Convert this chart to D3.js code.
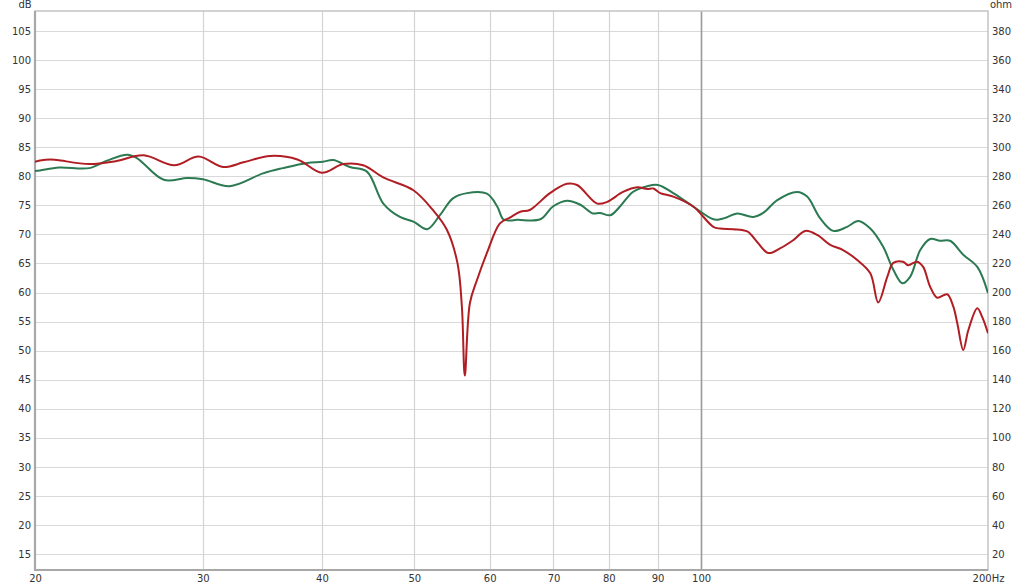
<!DOCTYPE html>
<html>
<head>
<meta charset="utf-8">
<script src="https://cdn.jsdelivr.net/npm/d3@7/dist/d3.min.js"></script>
<style>
  html, body { margin: 0; padding: 0; background: #fff; }
  svg text { font-family: "DejaVu Sans", "Liberation Sans", sans-serif; fill: #333; }
</style>
</head>
<body>
<svg id="chart" width="1024" height="587"></svg>
<script>
// ---- data ----
const freqTicks = [20, 30, 40, 50, 60, 70, 80, 90, 100, 200];
const freqTickLabels = ["20", "30", "40", "50", "60", "70", "80", "90", "100", "200Hz"];
const dbTicks = [15, 20, 25, 30, 35, 40, 45, 50, 55, 60, 65, 70, 75, 80, 85, 90, 95, 100, 105];
const ohmTicks = [20, 40, 60, 80, 100, 120, 140, 160, 180, 200, 220, 240, 260, 280, 300, 320, 340, 360, 380];

const redFreq = [20, 20.24, 20.74, 21.1, 22.8, 24.3, 26.0, 28.0, 29.7, 31.5, 33.1, 35.3, 37.7, 40.0, 42.1, 44.2, 46.4,
  49.9, 52.3, 54.1, 55.5, 56.1, 56.5, 57.2, 58.2, 59.6, 61.5, 63.0, 64.6, 66.1, 69.4, 72.3, 74.1, 77.8, 79.7,
  82.8, 85.7, 87.8, 89.1, 90.6, 93.5, 98.1, 103.0, 104.7, 108.1, 111.8, 114.5, 117.6, 121.0, 124.9, 128.6,
  132.4, 136.6, 140.9, 145.8, 150.5, 153.4, 156.8, 159.1, 162.9, 164.9, 168.5, 171.0, 173.9, 176.9, 181.2,
  183.9, 185.7, 188.4, 190.7, 194.9, 197.2, 200];
const redDb = [82.5, 82.7, 82.9, 82.8, 82.1, 82.6, 83.6, 81.9, 83.4, 81.6, 82.4, 83.5, 82.9, 80.6, 82.1, 81.9, 79.8,
  77.6, 74.2, 70.8, 65.1, 57.6, 45.7, 58.2, 62.2, 66.8, 71.9, 72.9, 73.9, 74.2, 77.1, 78.7, 78.5, 75.3, 75.6,
  77.3, 78.1, 77.8, 77.9, 77.1, 76.5, 74.8, 71.3, 71.0, 70.9, 70.5, 68.7, 66.8, 67.6, 69.0, 70.6,
  69.9, 68.2, 67.3, 65.6, 63.3, 58.3, 62.7, 65.1, 65.3, 64.7, 65.3, 64.4, 61.0, 59.1, 59.7,
  57.6, 54.7, 50.1, 53.5, 57.3, 55.8, 53.0];

const greenFreq = [20, 20.24, 21.2, 22.8, 23.8, 25.0, 25.6, 27.3, 28.9, 30.0, 32.0, 34.7, 36.4, 38.6, 40.1, 41.1,
  42.8, 44.6, 46.4, 48.3, 49.9, 51.6, 53.2, 54.9, 56.8, 59.6, 61.1, 62.0, 63.0, 64.1, 67.8, 69.9, 72.3,
  74.7, 77.0, 78.3, 80.3, 82.2, 84.8, 87.8, 90.1, 93.5, 98.1, 103.0, 104.7, 106.3, 109.1, 113.4, 116.2,
  120.2, 126.1, 129.2, 133.3, 137.6, 142.3, 146.2, 150.5, 155.2, 159.1, 162.6, 165.7, 169.8, 173.9,
  178.1, 182.5, 188.4, 194.9, 200];
const greenDb = [80.9, 81.0, 81.5, 81.4, 82.7, 83.7, 83.1, 79.4, 79.7, 79.5, 78.3, 80.5, 81.4, 82.3, 82.5, 82.8,
  81.6, 80.8, 75.3, 73.0, 72.2, 70.9, 73.3, 76.2, 77.1, 77.0, 74.8, 72.6, 72.4, 72.5, 72.6, 74.8, 75.8,
  75.1, 73.6, 73.7, 73.3, 74.8, 77.3, 78.3, 78.5, 77.1, 74.8, 72.6, 72.6, 72.9, 73.6, 73.0, 73.7,
  75.9, 77.3, 76.5, 72.8, 70.6, 71.3, 72.3, 71.0, 67.9, 63.9, 61.6, 62.7, 67.3, 69.2,
  68.9, 68.9, 66.5, 64.4, 59.9];

// ---- layout ----
const plotL = 35, plotR = 988, plotT = 11, plotB = 570;
const svg = d3.select("#chart");

const x = d3.scaleLog().domain([20, 200]).range([plotL, plotR]);
const y = d3.scaleLinear().domain([12.25, 108.44]).range([plotB, plotT]);
const yR = d3.scaleLinear().domain([(12.25 - 15) * 4 + 20, (108.44 - 15) * 4 + 20]).range([plotB, plotT]);

// horizontal grid
svg.append("g").selectAll("line").data(dbTicks).join("line")
  .attr("x1", plotL).attr("x2", plotR)
  .attr("y1", d => Math.round(y(d)) + 0.5).attr("y2", d => Math.round(y(d)) + 0.5)
  .attr("stroke", "#d9d9d9").attr("stroke-width", 1.2);

// vertical grid
svg.append("g").selectAll("line").data(freqTicks.filter(f => f > 20 && f < 200)).join("line")
  .attr("x1", d => Math.round(x(d)) + 0.5).attr("x2", d => Math.round(x(d)) + 0.5)
  .attr("y1", plotT).attr("y2", plotB)
  .attr("stroke", d => d === 100 ? "#9a9a9a" : "#d4d4d4")
  .attr("stroke-width", d => d === 100 ? 1.6 : 1.2);

// frame
svg.append("rect").attr("x", plotL).attr("y", plotT)
  .attr("width", plotR - plotL).attr("height", plotB - plotT)
  .attr("fill", "none").attr("stroke", "#c4c4c4").attr("stroke-width", 1.5);
svg.append("line").attr("x1", plotL).attr("x2", plotL).attr("y1", plotT).attr("y2", plotB + 1)
  .attr("stroke", "#a8a8a8").attr("stroke-width", 2.2);
svg.append("line").attr("x1", plotL).attr("x2", plotR).attr("y1", plotB).attr("y2", plotB)
  .attr("stroke", "#a8a8a8").attr("stroke-width", 2.2);

// axes via d3 axis generators (text only)
const axL = d3.axisLeft(y).tickValues(dbTicks).tickSize(0).tickPadding(4);
const gL = svg.append("g").attr("transform", `translate(${plotL},0)`).call(axL);
const axR = d3.axisRight(yR).tickValues(ohmTicks).tickSize(0).tickPadding(4);
const gR = svg.append("g").attr("transform", `translate(${plotR},0)`).call(axR);
const axB = d3.axisBottom(x).tickValues(freqTicks).tickSize(0).tickPadding(5)
  .tickFormat((d, i) => freqTickLabels[i]);
const gB = svg.append("g").attr("transform", `translate(0,${plotB})`).call(axB);
[gL, gR, gB].forEach(g => {
  g.select(".domain").remove();
  g.selectAll("text").attr("font-size", 10).attr("fill", "#333")
    .attr("font-family", '"DejaVu Sans", sans-serif');
});

// unit labels
svg.append("text").attr("x", 25).attr("y", 8).attr("text-anchor", "middle")
  .attr("font-size", 10).text("dB");
svg.append("text").attr("x", 1001).attr("y", 8).attr("text-anchor", "middle")
  .attr("font-size", 10).text("ohm");

// curves
const line = d3.line().x(d => x(d[0])).y(d => y(d[1])).curve(d3.curveCatmullRom.alpha(0.5));
svg.append("clipPath").attr("id", "plotclip").append("rect")
  .attr("x", plotL).attr("y", plotT).attr("width", plotR - plotL).attr("height", plotB - plotT);

svg.append("path").datum(greenFreq.map((f, i) => [f, greenDb[i]]))
  .attr("d", line).attr("fill", "none").attr("stroke", "#2b7a52")
  .attr("stroke-width", 2).attr("stroke-linejoin", "round").attr("clip-path", "url(#plotclip)");
svg.append("path").datum(redFreq.map((f, i) => [f, redDb[i]]))
  .attr("d", line).attr("fill", "none").attr("stroke", "#b01e24")
  .attr("stroke-width", 2).attr("stroke-linejoin", "round").attr("clip-path", "url(#plotclip)");
</script>
</body>
</html>
